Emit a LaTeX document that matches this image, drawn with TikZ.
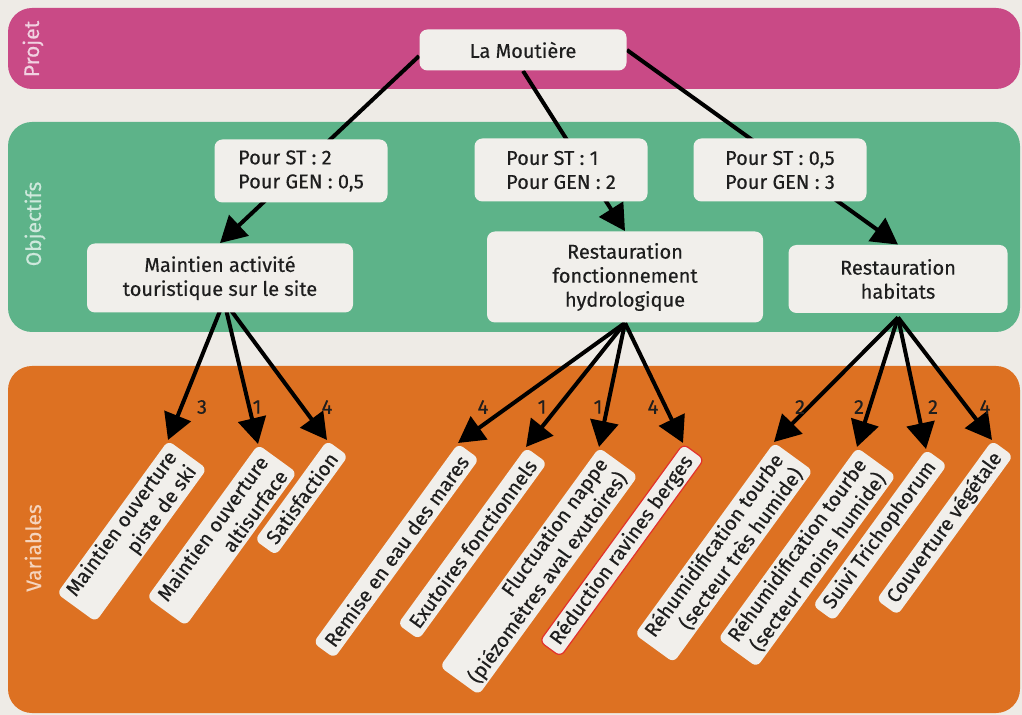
\documentclass[tikz,border=0pt]{standalone}
\usepackage{fontspec}
\setmainfont{Fira Sans}[FakeBold=0.35]
\usetikzlibrary{arrows.meta,calc}
\pgfdeclarelayer{bands}
\pgfdeclarelayer{links}
\pgfsetlayers{bands,links,main}
\definecolor{pagebg}{HTML}{EEEBE6}
\definecolor{projpink}{HTML}{C94A86}
\definecolor{objgreen}{HTML}{5DB389}
\definecolor{varorange}{HTML}{DD7122}
\definecolor{boxfill}{HTML}{F1EFEB}
\definecolor{inkdark}{HTML}{1E1E1E}
\definecolor{edgered}{HTML}{E2312B}

\begin{document}
\begin{tikzpicture}[x=0.5pt,y=-0.5pt,
    font=\fontsize{10}{12}\selectfont, text=inkdark,
    bandlabel/.style={rotate=90, font=\fontsize{10.5}{12}\selectfont},
    box/.style={fill=boxfill, rounded corners=4pt, align=center, inner sep=2pt},
    weights/.style={box, align=left, minimum width=86.5pt, minimum height=31.5pt},
    varbox/.style={fill=boxfill, rounded corners=3pt, rotate=54, anchor=north east,
      align=right, inner xsep=4pt, inner ysep=1pt},
    oneline/.style={minimum height=13pt},
    twoline/.style={minimum height=24pt},
    link/.style={line width=2pt, -{Triangle[length=13pt,width=14pt]}},
    wt/.style={inner sep=1pt}]
  \useasboundingbox (0,0) rectangle (1022,715);

  % the three bands
  \begin{pgfonlayer}{bands}
    \fill[pagebg] (0,0) rectangle (1022,715);
    \fill[projpink, rounded corners=12pt] (8,8) rectangle (1020,89);
    \fill[objgreen, rounded corners=12pt] (8,122) rectangle (1020,332);
    \fill[varorange, rounded corners=12pt] (8,366) rectangle (1020,713);
  \end{pgfonlayer}
  \node[bandlabel, text=projpink!25!white] (lprojet) at (33,49) {Projet};
  \node[bandlabel, text=objgreen!30!white] (lobjectifs) at (35,224) {Objectifs};
  \node[bandlabel, text=varorange!30!white] (lvariables) at (33,548) {Variables};

  % Projet
  \node[box, minimum width=103.5pt, minimum height=20.5pt] (moutiere) at (523,50) {La Moutière};

  % Objectifs and their weights
  \node[weights] (wtour) at (301,171) {Pour ST : 2\\Pour GEN : 0,5};
  \node[weights] (whydro) at (561,170) {Pour ST : 1\\Pour GEN : 2};
  \node[weights] (whab) at (780,170) {Pour ST : 0,5\\Pour GEN : 3};
  \node[box, minimum width=133pt, minimum height=34.5pt] (maintien) at (220,278) {Maintien activité\\touristique sur le site};
  \node[box, minimum width=138pt, minimum height=45.5pt] (hydro) at (625,277) {Restauration\\fonctionnement\\hydrologique};
  \node[box, minimum width=109.5pt, minimum height=34pt] (habitats) at (898,279) {Restauration\\habitats};

  % Variables
  \node[varbox, twoline, minimum width=92pt] (piste) at (168,440) {Maintien ouverture\\piste de ski};
  \node[varbox, twoline, minimum width=90.5pt] (alti) at (258,444) {Maintien ouverture\\altisurface};
  \node[varbox, oneline, minimum width=58.5pt] (satisf) at (327,440) {Satisfaction};
  \node[varbox, oneline, minimum width=116.5pt] (mares) at (458,443) {Remise en eau des mares};
  \node[varbox, oneline, minimum width=104.5pt] (exutoires) at (526,447) {Exutoires fonctionnels};
  \node[varbox, twoline, minimum width=133.5pt] (nappe) at (599,447) {Fluctuation nappe\\(piézomètres aval exutoires)};
  \node[varbox, oneline, minimum width=119pt, draw=edgered, line width=0.6pt] (ravines) at (683,443) {Réduction ravines berges};
  \node[varbox, twoline, minimum width=118.5pt] (tourbeA) at (774,442) {Réhumidification tourbe\\(secteur très humide)};
  \node[varbox, twoline, minimum width=113pt] (tourbeB) at (857,447) {Réhumidification tourbe\\(secteur moins humide)};
  \node[varbox, oneline, minimum width=91.5pt] (tricho) at (926,449) {Suivi Trichophorum};
  \node[varbox, oneline, minimum width=94pt] (couvert) at (992,440) {Couverture végétale};

  % weights of the variables
  \node[wt] (n1) at (202,407) {3};
  \node[wt] (n2) at (257,407) {1};
  \node[wt] (n3) at (327,407) {4};
  \node[wt] (n4) at (483,407) {4};
  \node[wt] (n5) at (542,407) {1};
  \node[wt] (n6) at (598,407) {1};
  \node[wt] (n7) at (653,407) {4};
  \node[wt] (n8) at (800,407) {2};
  \node[wt] (n9) at (859,407) {2};
  \node[wt] (n10) at (933,407) {2};
  \node[wt] (n11) at (985,407) {4};

  % connectors
  \begin{pgfonlayer}{links}
    \draw[link] ([yshift=-3pt]moutiere.west) -- (maintien.north);
    \draw[link] (moutiere.south) -- (hydro.north);
    \draw[link] (moutiere.east) -- (habitats.north);
    \coordinate (mout) at ($(maintien.south)+(4,-12)$);
    \foreach \v in {piste,alti,satisf}
      \draw[link] (mout) -- (\v.north east);
    \foreach \v in {mares,exutoires,nappe,ravines}
      \draw[link] (hydro.south) -- (\v.north east);
    \foreach \v in {tourbeA,tourbeB,tricho,couvert}
      \draw[link] ([yshift=-2pt]habitats.south) -- (\v.north east);
  \end{pgfonlayer}
\end{tikzpicture}
\end{document}
